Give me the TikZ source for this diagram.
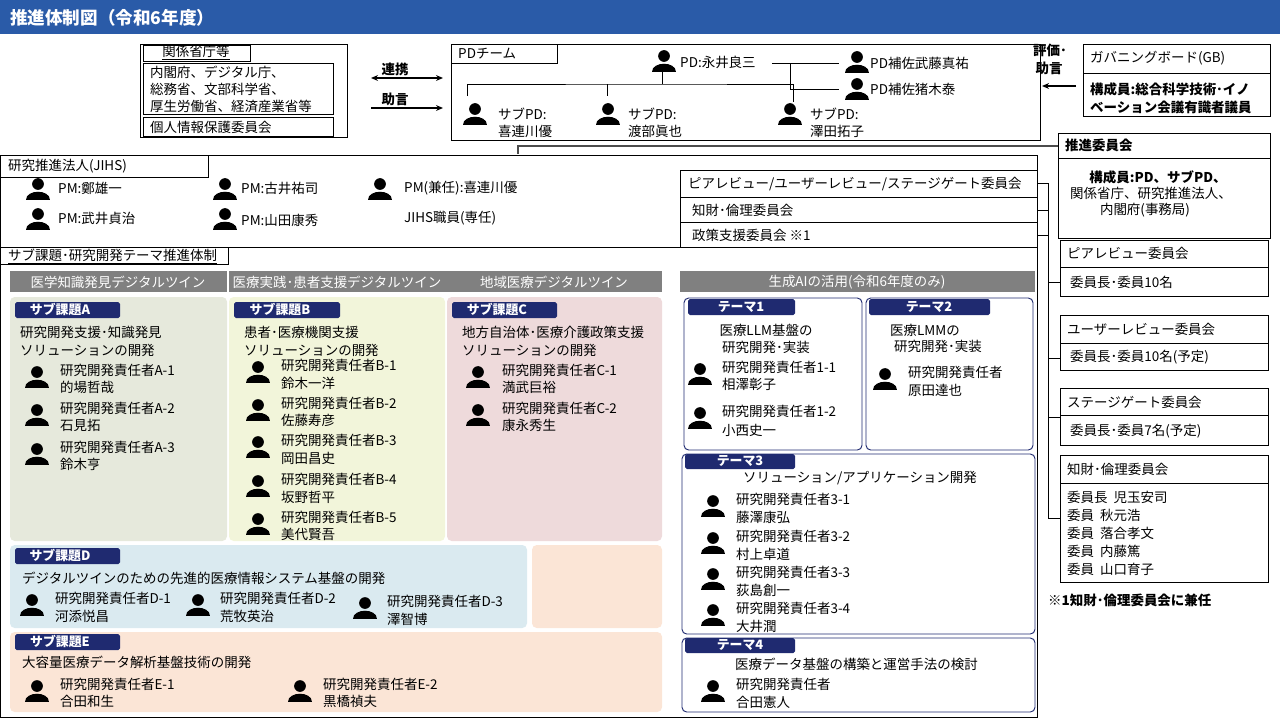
\documentclass[tikz,border=0pt]{standalone}
\usepackage{fontspec}
\setmainfont{Noto Sans CJK JP}
\usetikzlibrary{positioning,calc,arrows.meta}
\definecolor{titleblue}{HTML}{2A5BA8}
\definecolor{tagnavy}{HTML}{1F2A70}
\definecolor{bargray}{HTML}{808080}
\definecolor{fillA}{HTML}{E6E9DC}
\definecolor{fillB}{HTML}{F2F5DA}
\definecolor{fillC}{HTML}{EEDADB}
\definecolor{fillD}{HTML}{DAEAF0}
\definecolor{fillE}{HTML}{FBE5D6}
\tikzset{
  txt/.style={anchor=west,inner sep=0pt,font=\fontsize{11.5}{13}\selectfont},
  ctxt/.style={inner sep=0pt,font=\fontsize{11.5}{13}\selectfont},
  frame/.style={draw=black,line width=0.8pt},
  tagbox/.style={fill=tagnavy,rounded corners=1.5pt},
  tagtxt/.style={inner sep=0pt,text=white,font=\bfseries\fontsize{11}{13}\selectfont},
  themebox/.style={draw=tagnavy,line width=0.8pt,rounded corners=4pt},
  conn/.style={line width=0.8pt},
  arr/.style={line width=1pt,>={Stealth[length=6pt,width=5pt]}},
  person/.pic={
    \fill (0,-4) circle (5pt);
    \fill (-12,12) .. controls (-12,1) and (12,1) .. (12,12) -- cycle;
  },
}
\begin{document}
\begin{tikzpicture}[x=0.03cm,y=-0.03cm]
\useasboundingbox (0,0) rectangle (1280,720);

% title
\fill[titleblue] (0,0) rectangle (1280,34);
\node[anchor=west,inner sep=0pt,text=white,font=\bfseries\fontsize{15}{17}\selectfont] (title) at (10,18) {推進体制図（令和6年度）};

% kankei shocho
\draw[frame] (140,44) rectangle (347,137);
\draw[frame] (143,45) rectangle (250,61);
\node[ctxt] (kanhead) at (196,53) {\underline{関係省庁等}};
\draw[frame] (143,63) rectangle (333,114);
\node[txt] (kan1) at (150,72) {内閣府、デジタル庁、};
\node[txt] (kan2) at (150,89) {総務省、文部科学省、};
\node[txt] (kan3) at (150,106) {厚生労働省、経済産業省等};
\draw[frame] (143,117) rectangle (333,136);
\node[txt] (kojin) at (150,127) {個人情報保護委員会};

\coordinate (renL) at (371,78);
\coordinate (renR) at (443,78);
\coordinate (joL) at (371,108);
\coordinate (joR) at (443,108);
\draw[arr,<->] (renL) -- (renR);
\draw[arr,->] (joL) -- (joR);
\node[ctxt] (renkei) at (395,69) {\bfseries 連携};
\node[ctxt] (jogen) at (395,99) {\bfseries 助言};

% PD team
\draw[frame] (451,44) rectangle (1040,140);
\draw[frame] (451,44) rectangle (557,63);
\node[txt] (pdteam) at (458,54) {PDチーム};

\coordinate (pdi) at (664,60);
\pic at (pdi) {person};
\node[txt] (pd) at (680,62) {PD:永井良三};
\coordinate (a1) at (857,61);
\coordinate (a2) at (857,88);
\pic at (a1) {person};
\pic at (a2) {person};
\node[txt] (ast1) at (870,63) {PD補佐武藤真祐};
\node[txt] (ast2) at (870,89) {PD補佐猪木泰};
\draw[conn] ($(pd.east)+(16,1)$) -- ($(a1)+(-18,2)$);
\draw[conn] ($(pd.east)+(16,1)$) ++(19,0) |- ($(a2)+(-18,1)$);

\coordinate (s1) at (475,113);
\coordinate (s2) at (608,113);
\coordinate (s3) at (790,113);
\pic at (s1) {person};
\pic at (s2) {person};
\pic at (s3) {person};
\node[txt] (spd1a) at (498,114) {サブPD:};
\node[txt] (spd1b) at (498,131) {喜連川優};
\node[txt] (spd2a) at (628,114) {サブPD:};
\node[txt] (spd2b) at (628,131) {渡部眞也};
\node[txt] (spd3a) at (810,114) {サブPD:};
\node[txt] (spd3b) at (810,131) {澤田拓子};
\draw[conn] ($(pdi)+(-2,12)$) -- ($(pdi)+(-2,24)$) coordinate (pdbus);
\draw[conn] ($(s1)+(-8,-17)$) |- (pdbus) -| ($(s3)+(3,-11)$);
\draw[conn] ($(s2)+(-1,-29)$) -- ($(s2)+(-1,-17)$);

% governing board
\draw[frame] (1083,44) rectangle (1270,116);
\draw[frame] (1083,44) rectangle (1270,73);
\node[txt] (gb) at (1090,58) {ガバニングボード(GB)};
\node[txt] (gb1) at (1090,89) {\bfseries 構成員:総合科学技術･イノ};
\node[txt] (gb2) at (1090,107) {\bfseries ベーション会議有識者議員};
\coordinate (gbL) at (1076,86);
\coordinate (pdR) at (1042,86);
\draw[arr,->] (gbL) -- (pdR);
\node[ctxt] (hyoka1) at (1050,50) {\bfseries 評価･};
\node[ctxt] (hyoka2) at (1049,68) {\bfseries 助言};

% suishin iinkai
\draw[frame] (1058,133) rectangle (1270,238);
\draw[frame] (1058,133) rectangle (1270,158);
\node[txt] (suishin) at (1065,145) {\bfseries 推進委員会};
\node[ctxt] (su1) at (1158,177) {\bfseries 構成員:PD、サブPD、};
\node[ctxt] (su2) at (1151,193) {関係省庁、研究推進法人、};
\node[ctxt] (su3) at (1145,210) {内閣府(事務局)};
\coordinate (pdfoot) at (518,154);
\draw[line width=1.6pt,black!70] (pdfoot) |- (1058,146);

% JIHS
\draw[frame] (0,155) rectangle (1037,717);
\draw[frame] (0,155) rectangle (208,177);
\node[txt] (jihs) at (8,166) {研究推進法人(JIHS)};
\coordinate (p1) at (38,188);
\coordinate (p2) at (225,188);
\coordinate (p3) at (380,188);
\coordinate (p4) at (38,218);
\coordinate (p5) at (225,218);
\pic at (p1) {person};
\pic at (p2) {person};
\pic at (p3) {person};
\pic at (p4) {person};
\pic at (p5) {person};
\node[txt] (pm1) at (58,188) {PM:鄭雄一};
\node[txt] (pm2) at (241,188) {PM:古井祐司};
\node[txt] (pm3) at (404,188) {PM(兼任):喜連川優};
\node[txt] (pm4) at (58,218) {PM:武井貞治};
\node[txt] (pm5) at (241,220) {PM:山田康秀};
\node[txt] (jstaff) at (404,218) {JIHS職員(専任)};

% committees
\draw[frame] (680,170) rectangle (1037,247);
\draw[frame] (680,197) -- (1037,197);
\draw[frame] (680,222) -- (1037,222);
\node[txt] (cm1) at (688,184) {ピアレビュー/ユーザーレビュー/ステージゲート委員会};
\node[txt] (cm2) at (692,210) {知財･倫理委員会};
\node[txt] (cm3) at (692,235) {政策支援委員会 ※1};

\coordinate (busT) at (1048,183);
\coordinate (busB) at (1048,518);
\draw[conn] (1037,183) -- (busT) -- (busB);
\draw[conn] (1037,210) -- (1048,210);
\draw[conn] (1037,235) -- (1048,235);
\draw[conn] (1048,282) -- (1060,282);
\draw[conn] (1048,358) -- (1060,358);
\draw[conn] (1048,417) -- (1060,417);
\draw[conn] (busB) -- (1060,518);

\draw[frame] (1060,240) rectangle (1268,296);
\draw[frame] (1060,267) -- (1268,267);
\node[txt] (peer) at (1067,253) {ピアレビュー委員会};
\node[txt] (peerm) at (1070,282) {委員長･委員10名};
\draw[frame] (1060,315) rectangle (1268,370);
\draw[frame] (1060,343) -- (1268,343);
\node[txt] (user) at (1067,329) {ユーザーレビュー委員会};
\node[txt] (userm) at (1070,357) {委員長･委員10名(予定)};
\draw[frame] (1060,388) rectangle (1268,445);
\draw[frame] (1060,415) -- (1268,415);
\node[txt] (stage) at (1067,402) {ステージゲート委員会};
\node[txt] (stagem) at (1070,431) {委員長･委員7名(予定)};
\draw[frame] (1060,455) rectangle (1268,582);
\draw[frame] (1060,483) -- (1268,483);
\node[txt] (chizai) at (1067,469) {知財･倫理委員会};
\node[txt] (cz1) at (1067,497) {委員長\ \ 児玉安司};
\node[txt] (cz2) at (1067,515) {委員\ \ 秋元浩};
\node[txt] (cz3) at (1067,533) {委員\ \ 落合孝文};
\node[txt] (cz4) at (1067,551) {委員\ \ 内藤篤};
\node[txt] (cz5) at (1067,569) {委員\ \ 山口育子};
\node[txt] (note) at (1048,600) {\bfseries ※1知財･倫理委員会に兼任};

% sub-tasks
\draw[frame] (0,247) -- (1037,247);
\draw[frame] (0,247) rectangle (228,264);
\node[txt] (subhead) at (8,256) {\underline{サブ課題･研究開発テーマ推進体制}};
\fill[bargray] (10,271) rectangle (662,292);
\fill[bargray] (680,271) rectangle (1035,292);
\draw[white,line width=1.2pt] (228,271) -- (228,292);
\node[ctxt,text=white] (dt1) at (118,282) {医学知識発見デジタルツイン};
\node[ctxt,text=white] (dt2) at (337,282) {医療実践･患者支援デジタルツイン};
\node[ctxt,text=white] (dt3) at (554,282) {地域医療デジタルツイン};
\node[ctxt,text=white] (genai) at (857,282) {生成AIの活用(令和6年度のみ)};

\fill[fillA,rounded corners=4pt] (10,297) rectangle (227,541);
\fill[fillB,rounded corners=4pt] (229,297) rectangle (445,541);
\fill[fillC,rounded corners=4pt] (447,297) rectangle (662,541);
\fill[fillD,rounded corners=4pt] (10,545) rectangle (527,628);
\fill[fillE,rounded corners=4pt] (532,545) rectangle (662,628);
\fill[fillE,rounded corners=4pt] (10,632) rectangle (662,712);

% A
\fill[tagbox] (15,302) rectangle (120,318);
\node[tagtxt] (tagA) at (60,310) {サブ課題A};
\node[txt] (thA1) at (20,332) {研究開発支援･知識発見};
\node[txt] (thA2) at (20,350) {ソリューションの開発};
\pic at (37,376) {person};
\node[txt] (a1r) at (60,370) {研究開発責任者A-1};
\node[txt] (a1n) at (60,387) {的場哲哉};
\pic at (37,414) {person};
\node[txt] (a2r) at (60,408) {研究開発責任者A-2};
\node[txt] (a2n) at (60,425) {石見拓};
\pic at (37,453) {person};
\node[txt] (a3r) at (60,447) {研究開発責任者A-3};
\node[txt] (a3n) at (60,464) {鈴木亨};

% B
\fill[tagbox] (234,302) rectangle (340,318);
\node[tagtxt] (tagB) at (280,310) {サブ課題B};
\node[txt] (thB1) at (244,332) {患者･医療機関支援};
\node[txt] (thB2) at (244,350) {ソリューションの開発};
\pic at (258,371) {person};
\node[txt] (b1r) at (281,365) {研究開発責任者B-1};
\node[txt] (b1n) at (281,383) {鈴木一洋};
\pic at (258,409) {person};
\node[txt] (b2r) at (281,403) {研究開発責任者B-2};
\node[txt] (b2n) at (281,420) {佐藤寿彦};
\pic at (258,446) {person};
\node[txt] (b3r) at (281,440) {研究開発責任者B-3};
\node[txt] (b3n) at (281,458) {岡田昌史};
\pic at (258,485) {person};
\node[txt] (b4r) at (281,479) {研究開発責任者B-4};
\node[txt] (b4n) at (281,497) {坂野哲平};
\pic at (258,523) {person};
\node[txt] (b5r) at (281,517) {研究開発責任者B-5};
\node[txt] (b5n) at (281,534) {美代賢吾};

% C
\fill[tagbox] (452,302) rectangle (557,318);
\node[tagtxt] (tagC) at (497,310) {サブ課題C};
\node[txt] (thC1) at (462,332) {地方自治体･医療介護政策支援};
\node[txt] (thC2) at (462,350) {ソリューションの開発};
\pic at (478,376) {person};
\node[txt] (c1r) at (502,370) {研究開発責任者C-1};
\node[txt] (c1n) at (502,387) {満武巨裕};
\pic at (478,414) {person};
\node[txt] (c2r) at (502,408) {研究開発責任者C-2};
\node[txt] (c2n) at (502,425) {康永秀生};

% D
\fill[tagbox] (15,548) rectangle (120,564);
\node[tagtxt] (tagD) at (60,556) {サブ課題D};
\node[txt] (thD) at (22,578) {デジタルツインのための先進的医療情報システム基盤の開発};
\pic at (32,604) {person};
\node[txt] (d1r) at (55,598) {研究開発責任者D-1};
\node[txt] (d1n) at (55,616) {河添悦昌};
\pic at (198,604) {person};
\node[txt] (d2r) at (220,598) {研究開発責任者D-2};
\node[txt] (d2n) at (220,616) {荒牧英治};
\pic at (365,607) {person};
\node[txt] (d3r) at (387,601) {研究開発責任者D-3};
\node[txt] (d3n) at (387,619) {澤智博};

% E
\fill[tagbox] (15,634) rectangle (120,650);
\node[tagtxt] (tagE) at (60,642) {サブ課題E};
\node[txt] (thE) at (22,662) {大容量医療データ解析基盤技術の開発};
\pic at (37,690) {person};
\node[txt] (e1r) at (60,684) {研究開発責任者E-1};
\node[txt] (e1n) at (60,701) {合田和生};
\pic at (300,690) {person};
\node[txt] (e2r) at (323,684) {研究開発責任者E-2};
\node[txt] (e2n) at (323,701) {黒橋禎夫};

% themes
\draw[themebox] (684,298) rectangle (862,450);
\fill[tagbox] (688,299) rectangle (795,315);
\node[tagtxt] (tag1) at (741,307) {テーマ1};
\node[ctxt] (th1a) at (766,330) {医療LLM基盤の};
\node[ctxt] (th1b) at (766,347) {研究開発･実装};
\pic at (700,373) {person};
\node[txt] (t11r) at (722,367) {研究開発責任者1-1};
\node[txt] (t11n) at (722,384) {相澤彰子};
\pic at (700,417) {person};
\node[txt] (t12r) at (722,411) {研究開発責任者1-2};
\node[txt] (t12n) at (722,430) {小西史一};

\draw[themebox] (866,298) rectangle (1033,450);
\fill[tagbox] (869,299) rectangle (990,315);
\node[tagtxt] (tag2) at (929,307) {テーマ2};
\node[ctxt] (th2a) at (925,330) {医療LMMの};
\node[ctxt] (th2b) at (938,346) {研究開発･実装};
\pic at (885,378) {person};
\node[txt] (t2r) at (908,372) {研究開発責任者};
\node[txt] (t2n) at (908,390) {原田達也};

\draw[themebox] (682,454) rectangle (1035,634);
\fill[tagbox] (685,454) rectangle (795,469);
\node[tagtxt] (tag3) at (740,461) {テーマ3};
\node[ctxt] (th3) at (860,478) {ソリューション/アプリケーション開発};
\pic at (713,505) {person};
\node[txt] (t31r) at (736,499) {研究開発責任者3-1};
\node[txt] (t31n) at (736,517) {藤澤康弘};
\pic at (713,542) {person};
\node[txt] (t32r) at (736,536) {研究開発責任者3-2};
\node[txt] (t32n) at (736,554) {村上卓道};
\pic at (713,578) {person};
\node[txt] (t33r) at (736,572) {研究開発責任者3-3};
\node[txt] (t33n) at (736,590) {荻島創一};
\pic at (713,614) {person};
\node[txt] (t34r) at (736,608) {研究開発責任者3-4};
\node[txt] (t34n) at (736,626) {大井潤};

\draw[themebox] (682,638) rectangle (1035,712);
\fill[tagbox] (685,638) rectangle (795,653);
\node[tagtxt] (tag4) at (740,645) {テーマ4};
\node[txt] (th4) at (735,664) {医療データ基盤の構築と運営手法の検討};
\pic at (713,690) {person};
\node[txt] (t4r) at (736,684) {研究開発責任者};
\node[txt] (t4n) at (736,702) {合田憲人};

\end{tikzpicture}
\end{document}
